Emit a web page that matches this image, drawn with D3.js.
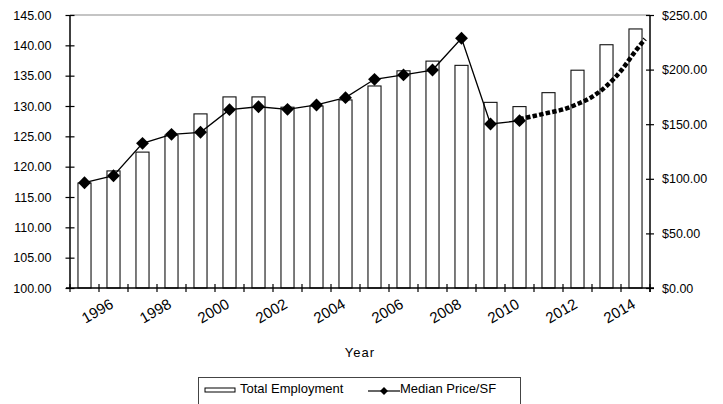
<!DOCTYPE html>
<html>
<head>
<meta charset="utf-8">
<script src="https://cdn.jsdelivr.net/npm/d3@7"></script>
<style>
  html, body { margin: 0; padding: 0; background: #fff; }
  svg { display: block; font-family: "Liberation Sans", Arial, sans-serif; }
</style>
</head>
<body>
<svg id="chart" width="723" height="404"></svg>
<script>
// Years shown on the category axis
const years = [1995, 1996, 1997, 1998, 1999, 2000, 2001, 2002, 2003, 2004,
               2005, 2006, 2007, 2008, 2009, 2010, 2011, 2012, 2013, 2014];

// Total employment (left axis)
const employment = [117.3, 119.3, 122.4, 125.2, 128.7, 131.5, 131.5, 129.8, 130.0, 131.0,
                    133.3, 135.8, 137.4, 136.7, 130.6, 129.9, 132.2, 135.9, 140.1, 142.7];

// Median price per square foot (right axis), reported through 2010
const priceYears = [1995, 1996, 1997, 1998, 1999, 2000, 2001, 2002, 2003, 2004,
                    2005, 2006, 2007, 2008, 2009, 2010];
const medianPrice = [96.4, 102.8, 132.5, 140.7, 142.6, 163.3, 166.0, 163.6, 167.6, 174.3,
                     191.1, 195.1, 199.6, 228.7, 150.2, 153.2];

// Projected price trend (dotted)
const trendYears = [2010, 2010.5, 2011, 2011.5, 2012, 2012.5, 2013, 2013.5, 2014, 2014.33];
const trendPrice = [154.5, 157.5, 160.5, 163.5, 168.5, 175.0, 185.0, 199.0, 217.0, 228.0];

// Axis ticks
const leftTicks = [100, 105, 110, 115, 120, 125, 130, 135, 140, 145];
const rightTicks = [0, 50, 100, 150, 200, 250];
const labelYears = [1996, 1998, 2000, 2002, 2004, 2006, 2008, 2010, 2012, 2014];

const svg = d3.select("#chart");
const plot = { left: 70, right: 650, top: 15, bottom: 288 };

const x = d3.scaleBand()
  .domain(years)
  .range([plot.left, plot.right])
  .paddingInner(0.55)
  .paddingOuter(0.275);
const center = d => x(d) + x.bandwidth() / 2;
const xYear = d3.scaleLinear()
  .domain([years[0], years[years.length - 1]])
  .range([center(years[0]), center(years[years.length - 1])]);

const yL = d3.scaleLinear().domain([100, 145]).range([plot.bottom, plot.top]);
const yR = d3.scaleLinear().domain([0, 250]).range([plot.bottom, plot.top]);

// top frame line
svg.append("line")
  .attr("x1", plot.left).attr("x2", plot.right)
  .attr("y1", plot.top).attr("y2", plot.top)
  .attr("stroke", "#8a8a8a").attr("stroke-width", 1.2);

// bars
svg.append("g").selectAll("rect")
  .data(years.map((yr, i) => ({ yr, v: employment[i] })))
  .join("rect")
  .attr("x", d => x(d.yr))
  .attr("y", d => yL(d.v))
  .attr("width", x.bandwidth())
  .attr("height", d => yL(100) - yL(d.v))
  .attr("fill", "#fff")
  .attr("stroke", "#111")
  .attr("stroke-width", 1.1);

// left axis
const axL = d3.axisLeft(yL).tickValues(leftTicks).tickFormat(d3.format(".2f"))
  .tickSizeInner(4.5).tickSizeOuter(0).tickPadding(14);
const gL = svg.append("g").attr("transform", `translate(${plot.left},0)`).call(axL);
gL.selectAll(".tick line").attr("x2", -4.5).attr("x1", 4.5);

// right axis
const axR = d3.axisRight(yR).tickValues(rightTicks).tickFormat(d3.format("$.2f"))
  .tickSizeInner(4).tickSizeOuter(0).tickPadding(8);
const gR = svg.append("g").attr("transform", `translate(${plot.right},0)`).call(axR);
gR.selectAll(".tick line").attr("x1", -4).attr("x2", 4);

// bottom axis: ticks on category boundaries
const gB = svg.append("g");
gB.append("line")
  .attr("x1", plot.left - 4).attr("x2", plot.right + 4)
  .attr("y1", plot.bottom).attr("y2", plot.bottom)
  .attr("stroke", "#000").attr("stroke-width", 1.5);
const bounds = years.map(d => x(d) - x.step() * x.paddingInner() / 2).concat([plot.right]);
gB.selectAll("line.tk").data(bounds).join("line")
  .attr("class", "tk")
  .attr("x1", d => d).attr("x2", d => d)
  .attr("y1", plot.bottom - 4).attr("y2", plot.bottom + 4)
  .attr("stroke", "#000").attr("stroke-width", 1.2);
gB.selectAll("text").data(labelYears).join("text")
  .attr("transform", d => `translate(${center(d) + 1},${plot.bottom + 19}) rotate(-30)`)
  .attr("text-anchor", "end")
  .attr("font-size", 15)
  .attr("fill", "#000")
  .text(d => d);

[gL, gR].forEach(g => {
  g.select(".domain").attr("stroke", "#000").attr("stroke-width", 1.5);
  g.selectAll(".tick line").attr("stroke", "#000").attr("stroke-width", 1.2);
  g.selectAll(".tick text").attr("font-size", 12.5).attr("fill", "#000")
    .attr("font-family", "'Liberation Sans', Arial, sans-serif");
});
gL.select(".domain").attr("d", `M0,${plot.top}V${plot.bottom}`);
gR.select(".domain").attr("d", `M0,${plot.top}V${plot.bottom + 4}`);

// median price line
const line = d3.line().x(d => xYear(d.yr)).y(d => yR(d.v));
const priceData = priceYears.map((yr, i) => ({ yr, v: medianPrice[i] }));
svg.append("path")
  .datum(priceData)
  .attr("d", line)
  .attr("fill", "none")
  .attr("stroke", "#000")
  .attr("stroke-width", 1.3);

// dotted projection
const trendData = trendYears.map((yr, i) => ({ yr, v: trendPrice[i] }));
svg.append("path")
  .datum(trendData)
  .attr("d", d3.line().x(d => xYear(d.yr)).y(d => yR(d.v)).curve(d3.curveMonotoneX))
  .attr("fill", "none")
  .attr("stroke", "#000")
  .attr("stroke-width", 4.5)
  .attr("stroke-dasharray", "4.5,2.2");

// diamond markers
const diamond = d3.symbol().type(d3.symbolDiamond2).size(105);
svg.append("g").selectAll("path")
  .data(priceData)
  .join("path")
  .attr("d", diamond)
  .attr("transform", d => `translate(${xYear(d.yr)},${yR(d.v)})`)
  .attr("fill", "#000");

// axis title
svg.append("text")
  .attr("x", (plot.left + plot.right) / 2)
  .attr("y", 357)
  .attr("text-anchor", "middle")
  .attr("font-size", 13)
  .attr("letter-spacing", 1)
  .text("Year");

// legend
const lg = svg.append("g");
lg.append("rect")
  .attr("x", 198.5).attr("y", 377.5).attr("width", 322).attr("height", 40)
  .attr("fill", "#fff").attr("stroke", "#444").attr("stroke-width", 1);
lg.append("rect")
  .attr("x", 205).attr("y", 388).attr("width", 30).attr("height", 4)
  .attr("fill", "#fff").attr("stroke", "#000").attr("stroke-width", 1);
lg.append("text").attr("x", 240).attr("y", 393).attr("font-size", 13).text("Total Employment");
lg.append("line")
  .attr("x1", 368).attr("x2", 400).attr("y1", 391).attr("y2", 391)
  .attr("stroke", "#000").attr("stroke-width", 1.2);
lg.append("path").attr("d", d3.symbol().type(d3.symbolDiamond2).size(40))
  .attr("transform", "translate(384,391)").attr("fill", "#000");
lg.append("text").attr("x", 400).attr("y", 393).attr("font-size", 13).text("Median Price/SF");
</script>
</body>
</html>
